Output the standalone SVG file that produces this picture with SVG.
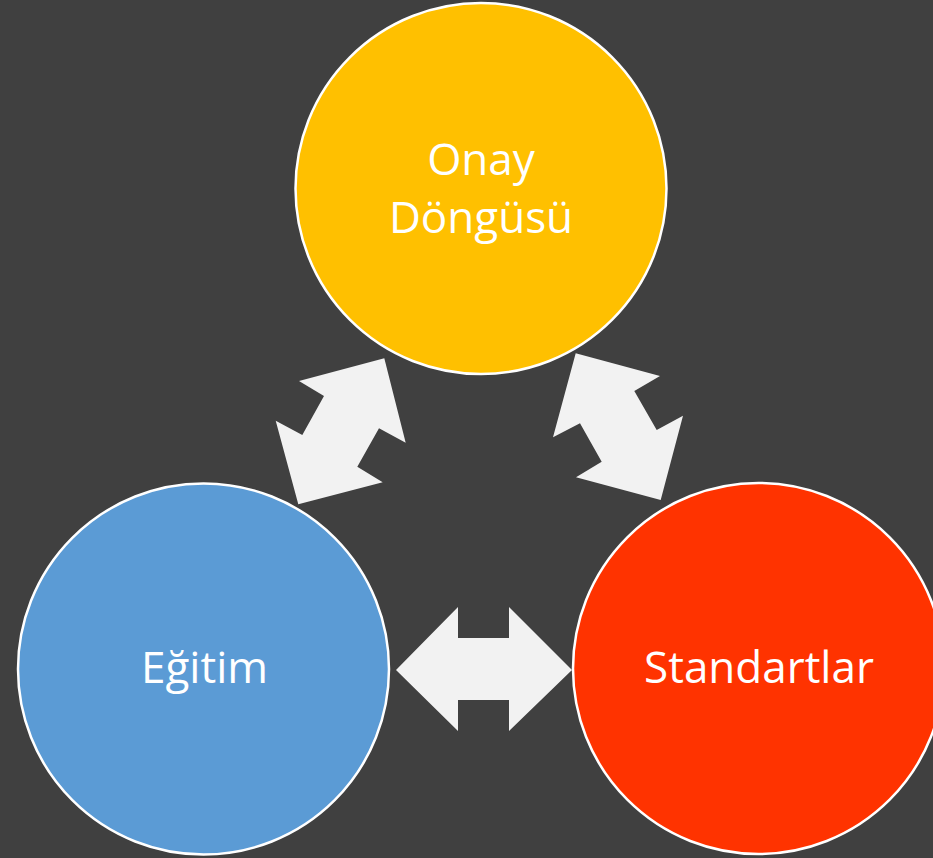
<svg xmlns="http://www.w3.org/2000/svg" width="933" height="858" viewBox="0 0 933 858">
  <style>
    .node circle { stroke: #FFFFFF; stroke-width: 2.5; }
    .label { font-family: "Open Sans", "Noto Sans", "Liberation Sans", sans-serif; font-size: 44px; fill: #FFFFFF; text-anchor: middle; }
    .arrow { fill: #F2F2F2; stroke: none; }
  </style>
  <rect x="0" y="0" width="933" height="858" fill="#404040"/>
  <g id="connectors">
    <polygon class="arrow" points="384.3,358.3 405.7,442.7 379,428.3 357.3,466.7 382.7,482.3 298.3,504.3 275.7,420.7 302.3,435 324,396 299,381"/>
    <polygon class="arrow" points="575.7,353.3 660,376 634.3,391 656.7,430 683,415.7 660.7,500 576,477.3 601.7,461.7 580,423.3 553,437.3"/>
    <polygon class="arrow" points="396,670 458,607 458,638 509,638 509,607 572,670 509,731 509,700 458,700 458,731"/>
  </g>
  <g id="onay" class="node">
    <circle cx="481" cy="188.5" r="185.5" fill="#FFC000"/>
    <text class="label" x="481" y="175">Onay</text>
    <text class="label" x="481" y="233">Döngüsü</text>
  </g>
  <g id="egitim" class="node">
    <circle cx="203.5" cy="669" r="185.5" fill="#5B9BD5"/>
    <text class="label" x="204.5" y="683">Eğitim</text>
  </g>
  <g id="standartlar" class="node">
    <circle cx="758.5" cy="668.5" r="185.5" fill="#FF3300"/>
    <text class="label" x="759" y="683">Standartlar</text>
  </g>
</svg>
